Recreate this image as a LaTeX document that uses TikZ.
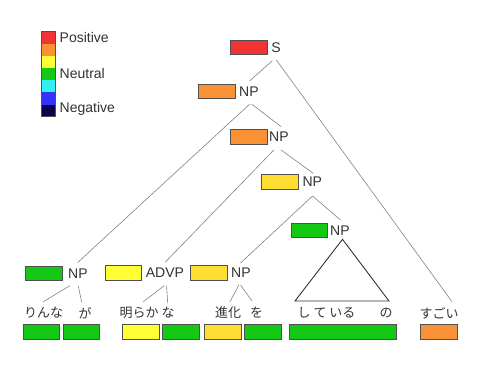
\documentclass[tikz,border=0pt]{standalone}
\usepackage{fontspec}
\setmainfont{Liberation Sans}
\newfontfamily\jp{Noto Sans CJK JP}
\usetikzlibrary{calc}
\definecolor{cRed}{RGB}{240,52,52}
\definecolor{cOrange}{RGB}{248,146,52}
\definecolor{cGold}{RGB}{255,222,52}
\definecolor{cYellow}{RGB}{255,255,52}
\definecolor{cGreen}{RGB}{22,200,22}
\definecolor{cCyan}{RGB}{48,240,240}
\definecolor{cBlue}{RGB}{50,50,250}
\definecolor{cNavy}{RGB}{16,0,80}
\definecolor{cBorder}{RGB}{80,80,80}
\definecolor{cText}{RGB}{50,50,50}
\definecolor{cLine}{RGB}{130,130,130}
\tikzset{
  cbox/.style={draw=cBorder, line width=0.8pt, minimum width=36.5pt, minimum height=14.5pt, inner sep=0pt},
  lab/.style={font=\fontsize{14}{16}\selectfont, text=cText, inner sep=0pt, anchor=west},
  word/.style={font=\jp\fontsize{13}{15}\selectfont, text=cText, inner sep=0pt},
  tline/.style={draw=cLine, line width=0.6pt},
  tri/.style={draw=cText, line width=0.9pt, line join=miter}
}
\begin{document}
\begin{tikzpicture}[x=1pt,y=-1pt]
\useasboundingbox (0,0) rectangle (480,373);
% legend
\foreach \c [count=\i from 0] in {cRed,cOrange,cYellow,cGreen,cCyan,cBlue,cNavy}{
  \fill[\c] (41.7,31.7+12.14*\i) rectangle (55.7,31.7+12.14*\i+12.14);
}
\draw[cBorder, line width=0.8pt] (41.7,31.7) rectangle (55.7,116.7);
\node[lab] (lpos) at (59.5,37.3) {Positive};
\node[lab] (lneu) at (59.5,73.3) {Neutral};
\node[lab] (lneg) at (59.5,109.3) {Negative};
% tree boxes
\node[cbox, fill=cRed, minimum width=37.3pt] (Sb) at (248.7,47.3) {};
\node[cbox, fill=cOrange] (NP1b) at (216.7,91.3) {};
\node[cbox, fill=cOrange, minimum width=37.3pt] (NP2b) at (248.7,136.7) {};
\node[cbox, fill=cGold] (NP3b) at (279.7,182) {};
\node[cbox, fill=cGreen] (NP4b) at (309.5,230.5) {};
\node[cbox, fill=cGreen] (NPab) at (43.8,273.2) {};
\node[cbox, fill=cYellow] (ADVPb) at (123.3,272.8) {};
\node[cbox, fill=cGold] (NPbb) at (209,273) {};
% labels
\node[lab] (Slab) at (271.2,47.3) {S};
\node[lab] (NP1lab) at (239,91.3) {NP};
\node[lab] (NP2lab) at (269,136.7) {NP};
\node[lab] (NP3lab) at (302.3,182) {NP};
\node[lab] (NP4lab) at (330,230.5) {NP};
\node[lab] (NPalab) at (68,273.2) {NP};
\node[lab] (ADVPlab) at (145.7,272.8) {ADVP};
\node[lab] (NPblab) at (231,273) {NP};
% words
\node[word] (w1) at (43.5,313) {りんな};
\node[word] (w2) at (85,313) {が};
\node[word] (w3) at (139,313) {明らか};
\node[word] (w4) at (168,313) {な};
\node[word] (w5) at (228,313) {進化};
\node[word] (w6) at (256.5,313) {を};
\node[word] (w7) at (326.5,313) {し て いる};
\node[word] (w8) at (386,313) {の};
\node[word] (w9) at (439,313) {すごい};
% word boxes
\node[cbox, fill=cGreen] (b1) at (41.3,332) {};
\node[cbox, fill=cGreen] (b2) at (81.3,332) {};
\node[cbox, fill=cYellow] (b3) at (140.8,332) {};
\node[cbox, fill=cGreen] (b4) at (181,332) {};
\node[cbox, fill=cGold] (b5) at (223,332) {};
\node[cbox, fill=cGreen] (b6) at (263,332) {};
\node[cbox, fill=cGreen, minimum width=107.7pt] (b7) at (342.8,332) {};
\node[cbox, fill=cOrange, minimum width=37.7pt] (b8) at (438.8,332) {};
% tree lines
\draw[tline] ($(Slab.center)+(-3.7,13.4)$) -- ($(NP1lab.center)+(0.6,-10.3)$);
\draw[tline] ($(Slab.center)+(0.3,12.7)$) -- ($(w9.center)+(13,-11.3)$);
\draw[tline] ($(NP1lab.center)+(0.9,12.7)$) -- ($(NPalab.center)+(-0.4,-10.5)$);
\draw[tline] ($(NP1lab.center)+(2.6,12.7)$) -- ($(NP2lab.center)+(2.3,-10)$);
\draw[tline] ($(NP2lab.center)+(-5.1,13.3)$) -- ($(ADVPlab.center)+(0.2,-10.5)$);
\draw[tline] ($(NP2lab.center)+(2.3,13.3)$) -- ($(NP3lab.center)+(1,-8.7)$);
\draw[tline] ($(NP3lab.center)+(0.3,14)$) -- ($(NPblab.center)+(-0.4,-10)$);
\draw[tline] ($(NP3lab.center)+(0.3,14)$) -- ($(NP4lab.center)+(0.6,-10.5)$);
\draw[tline] ($(NPalab.center)+(-8.1,12.5)$) -- ($(w1.center)+(-0.2,-11.3)$);
\draw[tline] ($(NPalab.center)+(0.3,12.5)$) -- ($(w2.center)+(-3.3,-10.7)$);
\draw[tline] ($(ADVPlab.center)+(-0.8,12.9)$) -- ($(w3.center)+(4.3,-11.3)$);
\draw[tline] ($(ADVPlab.center)+(1.6,12.9)$) -- ($(w4.center)+(-0.3,-10)$);
\draw[tline] ($(NPblab.center)+(-2.1,12)$) -- ($(w5.center)+(2,-11.3)$);
\draw[tline] ($(NPblab.center)+(-0.4,12)$) -- ($(w6.center)+(-4.5,-12)$);
% triangle
\coordinate (triL) at (295,301);
\coordinate (triR) at (389,301);
\draw[tri] ($(NP4lab.center)+(2.6,8.8)$) -- (triL) -- (triR) -- cycle;
\end{tikzpicture}
\end{document}
